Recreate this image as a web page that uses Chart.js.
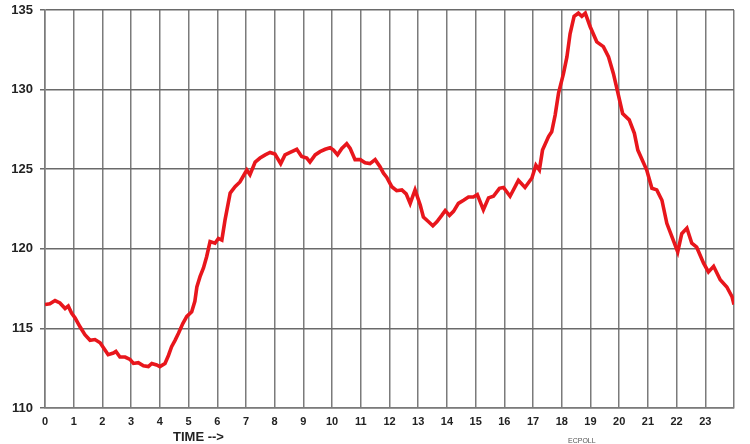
<!DOCTYPE html>
<html>
<head>
<meta charset="utf-8">
<script src="https://cdn.jsdelivr.net/npm/chart.js@4.4.1/dist/chart.umd.min.js"></script>
<style>
  body { margin: 0; background: #fff; }
  .wrap { position: relative; width: 750px; height: 444px; }
  .axis-name { position: absolute; left: 173px; top: 429px; font: bold 13px "Liberation Sans", Arial, sans-serif; color: #222; }
  .source { position: absolute; left: 568px; top: 437px; font: 7px "Liberation Sans", Arial, sans-serif; color: #555; }
</style>
</head>
<body>
<div class="wrap">
  <canvas id="load" width="750" height="444"></canvas>
  <div class="axis-name">TIME --&gt;</div>
  <div class="source">ECPOLL</div>
</div>
<script>
const hours = [
  0.00, 0.17, 0.35, 0.52, 0.70, 0.81, 0.93, 1.05, 1.22, 1.39, 1.57, 1.74, 1.92,
  2.09, 2.20, 2.38, 2.47, 2.61, 2.79, 2.96, 3.08, 3.25, 3.43, 3.60, 3.72, 3.89,
  4.00, 4.18, 4.30, 4.41, 4.53, 4.65, 4.80, 4.94, 5.11, 5.22, 5.29, 5.40, 5.52,
  5.63, 5.75, 5.92, 6.04, 6.16, 6.27, 6.45, 6.62, 6.79, 6.95, 7.03, 7.14, 7.32,
  7.49, 7.67, 7.84, 8.01, 8.21, 8.36, 8.54, 8.77, 8.94, 9.12, 9.23, 9.41, 9.58,
  9.76, 9.93, 10.05, 10.19, 10.34, 10.51, 10.63, 10.80, 10.98, 11.15, 11.32,
  11.50, 11.67, 11.79, 11.90, 12.08, 12.25, 12.43, 12.58, 12.72, 12.89, 13.07,
  13.18, 13.36, 13.51, 13.65, 13.82, 13.94, 14.09, 14.23, 14.40, 14.58, 14.75,
  14.92, 15.06, 15.27, 15.45, 15.62, 15.83, 15.97, 16.20, 16.49, 16.72, 16.96,
  17.10, 17.22, 17.33, 17.54, 17.65, 17.77, 17.89, 18.06, 18.18, 18.29, 18.43,
  18.58, 18.70, 18.82, 18.99, 19.22, 19.45, 19.63, 19.80, 19.98, 20.12, 20.35,
  20.53, 20.65, 20.96, 21.14, 21.31, 21.49, 21.66, 21.84, 22.04, 22.18, 22.36,
  22.53, 22.70, 22.94, 23.11, 23.29, 23.52, 23.75, 23.93, 24.00
];

const load = [
  116.5, 116.55, 116.75, 116.6, 116.25, 116.4, 115.95, 115.65, 115.1, 114.6, 114.25, 114.3, 114.1,
  113.65, 113.35, 113.45, 113.55, 113.2, 113.2, 113.05, 112.8, 112.85, 112.65, 112.6, 112.8, 112.7,
  112.6, 112.8, 113.3, 113.85, 114.25, 114.7, 115.3, 115.75, 116.05, 116.7, 117.6, 118.25, 118.8,
  119.5, 120.45, 120.35, 120.65, 120.55, 121.8, 123.5, 123.9, 124.2, 124.7, 124.95, 124.65, 125.45,
  125.7, 125.9, 126.05, 125.95, 125.35, 125.9, 126.05, 126.25, 125.8, 125.7, 125.45, 125.9, 126.1,
  126.25, 126.35, 126.2, 125.9, 126.3, 126.6, 126.3, 125.6, 125.6, 125.4, 125.35,
  125.6, 125.15, 124.75, 124.5, 123.9, 123.65, 123.7, 123.45, 122.85, 123.7, 122.75,
  122.0, 121.7, 121.45, 121.7, 122.1, 122.4, 122.1, 122.35, 122.85, 123.05, 123.25,
  123.25, 123.4, 122.45, 123.2, 123.3, 123.8, 123.85, 123.3, 124.3, 123.85, 124.45,
  125.25, 124.95, 126.2, 127.05, 127.35, 128.4, 129.8, 131.0, 132.05, 133.5, 134.6,
  134.8, 134.6, 134.8, 133.95, 133.0, 132.7, 132.05, 131.0, 129.6, 128.5, 128.1,
  127.25, 126.2, 124.95, 123.8, 123.7, 123.05, 121.6, 120.75, 119.8, 120.95, 121.3,
  120.35, 120.1, 119.1, 118.55, 118.9, 118.05, 117.6, 117.0, 116.5
];

const yTicks = [110, 115, 120, 125, 130, 135];
const xTickMax = 23;

const gridGray = "#7b7b7b";
const labelFont = "'Liberation Sans', Arial, sans-serif";

new Chart(document.getElementById("load"), {
  type: "line",
  data: {
    datasets: [{
      data: hours.map((h, i) => ({ x: h, y: load[i] })),
      borderColor: "#e8161c",
      borderWidth: 3.6,
      pointRadius: 0,
      tension: 0,
      fill: false
    }]
  },
  options: {
    responsive: false,
    animation: false,
    layout: { padding: { top: 10, right: 16, left: 0, bottom: 0 } },
    plugins: { legend: { display: false }, tooltip: { enabled: false } },
    scales: {
      x: {
        type: "linear",
        min: 0,
        max: 24,
        afterFit: s => { s.height = 36; s.paddingLeft = 0; s.paddingRight = 0; },
        afterBuildTicks: s => { s.ticks = Array.from({ length: 25 }, (_, i) => ({ value: i })); },
        ticks: {
          autoSkip: false,
          maxRotation: 0,
          padding: 7,
          color: "#222",
          font: { family: labelFont, size: 11, weight: "bold" },
          callback: v => (v <= xTickMax ? String(v) : "")
        },
        grid: { color: gridGray, lineWidth: 1.5, drawTicks: false },
        border: { color: gridGray, width: 1.5 }
      },
      y: {
        min: 110,
        max: 135,
        afterFit: s => { s.width = 45; s.paddingTop = 0; s.paddingBottom = 0; },
        afterBuildTicks: s => { s.ticks = yTicks.map(v => ({ value: v })); },
        ticks: {
          padding: 7,
          color: "#222",
          font: { family: labelFont, size: 13, weight: "bold" }
        },
        grid: { color: "#6a6a6a", lineWidth: 1.5, tickLength: 5 },
        border: { color: gridGray, width: 1.5 }
      }
    }
  }
});
</script>
</body>
</html>
